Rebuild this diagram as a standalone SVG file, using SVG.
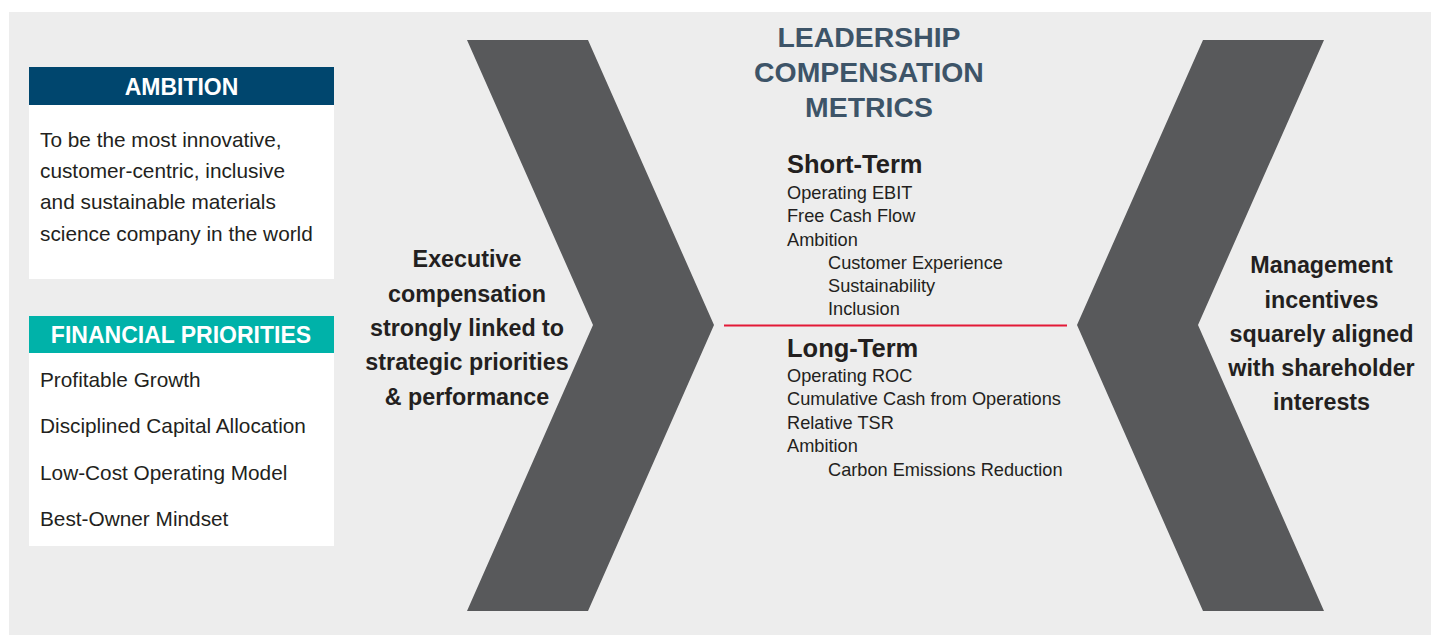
<svg xmlns="http://www.w3.org/2000/svg" width="1431" height="635" viewBox="0 0 1431 635">
<style>
.t{font-family:"Liberation Sans",Arial,Helvetica,sans-serif;fill:#231f20}
.b{font-weight:bold}
.hd{font-family:"Liberation Sans",Arial,Helvetica,sans-serif;font-weight:bold;fill:#ffffff;font-size:23px}
.body{font-size:20.8px}
.m{font-size:18.2px}
.bb{font-size:23.3px}
.ttl{font-size:28.4px;fill:#3d5468}
.chev{fill:#58595b}
</style>
<rect x="0" y="0" width="1431" height="635" fill="#ffffff"/>
<rect x="9" y="12" width="1422" height="623" fill="#ededed"/>
<g id="ambition">
<rect x="29" y="67" width="305" height="38" fill="#00466e"/>
<rect x="29" y="105" width="305" height="174" fill="#ffffff"/>
<text class="hd" x="181.5" y="95" text-anchor="middle">AMBITION</text>
<text class="t body" x="40" y="147">To be the most innovative,</text>
<text class="t body" x="40" y="178">customer-centric, inclusive</text>
<text class="t body" x="40" y="209">and sustainable materials</text>
<text class="t body" x="40" y="240.5">science company in the world</text>
</g>
<g id="financial-priorities">
<rect x="29" y="316" width="305" height="37" fill="#00b2a9"/>
<rect x="29" y="353" width="305" height="193" fill="#ffffff"/>
<text class="hd" x="181" y="343" text-anchor="middle">FINANCIAL PRIORITIES</text>
<text class="t body" x="40" y="387">Profitable Growth</text>
<text class="t body" x="40" y="433">Disciplined Capital Allocation</text>
<text class="t body" x="40" y="480">Low-Cost Operating Model</text>
<text class="t body" x="40" y="526">Best-Owner Mindset</text>
</g>
<g id="left-chevron">
<polygon class="chev" points="467,40 588,40 714,325 588,611 467,611 593,325"/>
<text class="t b bb" text-anchor="middle" x="467" y="267">Executive</text>
<text class="t b bb" text-anchor="middle" x="467" y="301.5">compensation</text>
<text class="t b bb" text-anchor="middle" x="467" y="336">strongly linked to</text>
<text class="t b bb" text-anchor="middle" x="467" y="370">strategic priorities</text>
<text class="t b bb" text-anchor="middle" x="467" y="404.5">&amp; performance</text>
</g>
<g id="metrics">
<text class="t b ttl" text-anchor="middle" x="869" y="46.5">LEADERSHIP</text>
<text class="t b ttl" text-anchor="middle" x="869" y="81.5">COMPENSATION</text>
<text class="t b ttl" text-anchor="middle" x="869" y="116.5">METRICS</text>
<text class="t b" font-size="25.5" x="787" y="172.5">Short-Term</text>
<text class="t m" x="787" y="199">Operating EBIT</text>
<text class="t m" x="787" y="222">Free Cash Flow</text>
<text class="t m" x="787" y="245.5">Ambition</text>
<text class="t m" x="828" y="268.5">Customer Experience</text>
<text class="t m" x="828" y="292">Sustainability</text>
<text class="t m" x="828" y="315">Inclusion</text>
<text class="t b" font-size="25.5" x="787" y="356.5">Long-Term</text>
<text class="t m" x="787" y="381.5">Operating ROC</text>
<text class="t m" x="787" y="405">Cumulative Cash from Operations</text>
<text class="t m" x="787" y="428.5">Relative TSR</text>
<text class="t m" x="787" y="451.5">Ambition</text>
<text class="t m" x="828" y="475.5">Carbon Emissions Reduction</text>
</g>
<g id="connectors">
<line x1="724" y1="325.5" x2="1067" y2="325.5" stroke="#e31937" stroke-width="2"/>
</g>
<g id="right-chevron">
<polygon class="chev" points="1203,40 1324,40 1198,325 1324,611 1203,611 1077,325"/>
<text class="t b bb" text-anchor="middle" x="1321.5" y="272.5">Management</text>
<text class="t b bb" text-anchor="middle" x="1321.5" y="307.5">incentives</text>
<text class="t b bb" text-anchor="middle" x="1321.5" y="342">squarely aligned</text>
<text class="t b bb" text-anchor="middle" x="1321.5" y="376">with shareholder</text>
<text class="t b bb" text-anchor="middle" x="1321.5" y="410">interests</text>
</g>
</svg>
